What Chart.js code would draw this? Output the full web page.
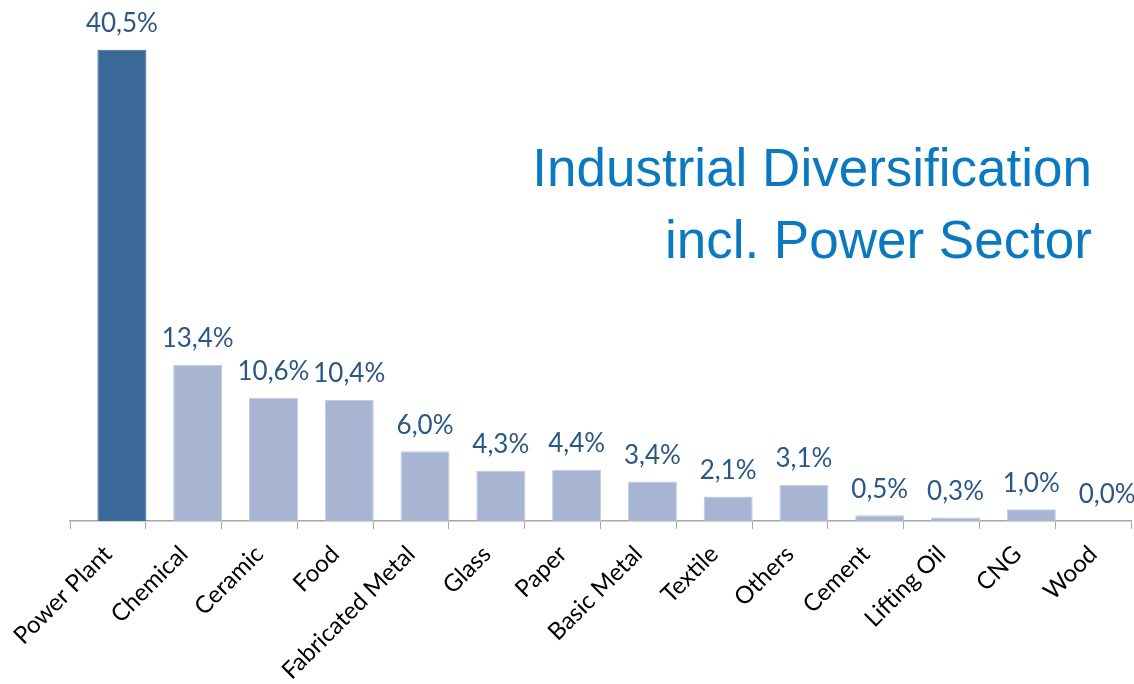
<!DOCTYPE html>
<html><head><meta charset="utf-8">
<script src="https://cdn.jsdelivr.net/npm/chart.js@4.4.1/dist/chart.umd.min.js"></script>
<style>
html,body{margin:0;padding:0;background:#fff;}
#wrap{position:relative;width:1134px;height:684px;overflow:hidden;}
#c{position:absolute;left:0;top:0;}
#title{position:absolute;right:42px;top:132px;font-family:"Liberation Sans",Arial,sans-serif;font-size:53px;line-height:72px;color:#0a79bf;text-align:right;white-space:nowrap;}
</style></head><body>
<div id="wrap"><canvas id="c" width="1134" height="684"></canvas>
<div id="title">Industrial Diversification<br>incl. Power Sector</div></div>
<script>
const categories = ["Power Plant","Chemical","Ceramic","Food","Fabricated Metal","Glass","Paper","Basic Metal","Textile","Others","Cement","Lifting Oil","CNG","Wood"];
const shares = [40.5,13.4,10.6,10.4,6.0,4.3,4.4,3.4,2.1,3.1,0.5,0.3,1.0,0.0];
const shareLabels = ["40,5%","13,4%","10,6%","10,4%","6,0%","4,3%","4,4%","3,4%","2,1%","3,1%","0,5%","0,3%","1,0%","0,0%"];
const spacer = categories.map(() => null);

const darkBar = '#3b6a98', lightBar = '#a7b4d2', labelColor = '#2b5784', axisColor = '#a6a6a6';

const labelPlugin = {
  id: 'valueLabels',
  afterDatasetsDraw(chart) {
    const ctx = chart.ctx;
    const meta = chart.getDatasetMeta(1);
    ctx.save();
    ctx.font = '26px Lato, "Open Sans", sans-serif';
    ctx.fillStyle = labelColor;
    ctx.textAlign = 'center';
    ctx.textBaseline = 'middle';
    meta.data.forEach((bar, i) => {
      ctx.fillText(shareLabels[i], bar.x, bar.y - 26);
    });
    ctx.restore();
  }
};

new Chart(document.getElementById('c'), {
  type: 'bar',
  data: {
    labels: categories,
    datasets: [
      { data: spacer, backgroundColor: 'rgba(0,0,0,0)' },
      { data: shares,
        backgroundColor: shares.map((v, i) => i === 0 ? darkBar : lightBar),
        borderColor: shares.map((v, i) => i === 0 ? darkBar : '#c3cce1'),
        borderWidth: 1 }
    ]
  },
  plugins: [labelPlugin],
  options: {
    responsive: false,
    animation: false,
    devicePixelRatio: 1,
    layout: { padding: { left: 70, right: 3, top: 9, bottom: 0 } },
    categoryPercentage: 0.739,
    barPercentage: 1.75,
    plugins: { legend: { display: false }, tooltip: { enabled: false }, title: { display: false } },
    scales: {
      x: {
        grid: { offset: true, drawOnChartArea: false, drawTicks: true, tickLength: 8, color: axisColor },
        border: { color: axisColor, width: 1.5 },
        ticks: { minRotation: 45, maxRotation: 45, color: '#000', padding: 11, autoSkip: false,
                 font: { family: 'Lato, "Open Sans", sans-serif', size: 24 } },
        afterFit(s) { s.paddingLeft = 0; s.paddingRight = 0; s.height = 163; }
      },
      y: { display: false, min: 0, max: 44 }
    }
  }
});
</script>
</body></html>
